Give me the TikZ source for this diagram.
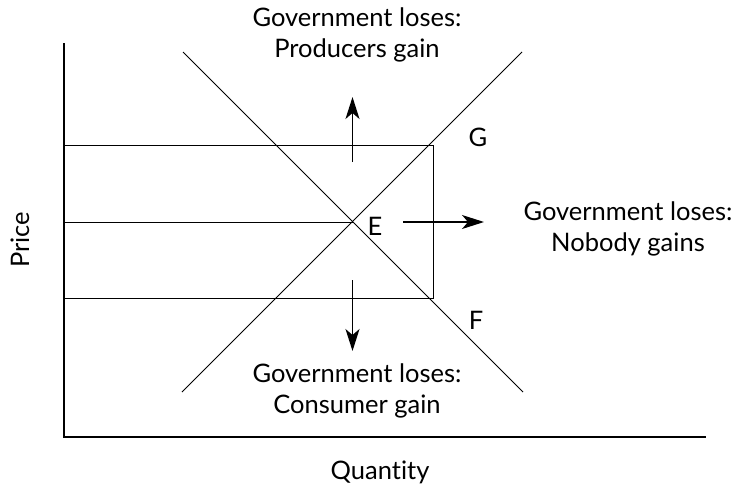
\documentclass[tikz,border=0pt]{standalone}
\usepackage{fontspec}
\setmainfont{Lato}[Ligatures={NoCommon}]
\usetikzlibrary{arrows.meta}
\begin{document}
\begin{tikzpicture}[x=1pt,y=-1pt,
  lbl/.style={font=\fontsize{25.5}{31}\selectfont, align=center, inner sep=0pt},
  thinline/.style={line width=1pt},
  axisline/.style={line width=1.3pt},
  arr/.style={line width=1.4pt,-{Stealth[length=22pt,width=14pt,inset=6pt]}}]
\useasboundingbox (0,0) rectangle (736,493);
% axes
\coordinate (ytop) at (64,43);
\coordinate (orig) at (64,437);
\coordinate (xend) at (706,437);
\draw[axisline] (ytop) -- (orig) -- (xend);
% rectangle
\coordinate (rtl) at (64,145);
\coordinate (rtr) at (433,145);
\coordinate (rbr) at (433,298);
\coordinate (rbl) at (64,298);
\draw[thinline] (rtl) -- (rtr) -- (rbr) -- (rbl);
% curves
\coordinate (dtop) at (183,52);
\coordinate (dbot) at (523,392);
\coordinate (stop) at (522,52);
\coordinate (sbot) at (182,392);
\draw[thinline] (dtop) -- (dbot);
\draw[thinline] (sbot) -- (stop);
\coordinate (E) at (352.5,222);
\coordinate (mid) at (64,222);
\draw[thinline] (mid) -- (E);
% arrows
\coordinate (u0) at (352.5,162);
\coordinate (u1) at (352.5,97);
\coordinate (d0) at (352.5,280);
\coordinate (d1) at (352.5,351);
\coordinate (r0) at (403,222);
\coordinate (r1) at (484,222);
\draw[arr] (u0) -- (u1);
\draw[arr] (d0) -- (d1);
\draw[arr] (r0) -- (r1);
% labels
\node[lbl] (ltop) at (357,35) {Government loses:\\Producers gain};
\node[lbl] (lright) at (628,229) {Government loses:\\Nobody gains};
\node[lbl] (lbot) at (357,391) {Government loses:\\Consumer gain};
\node[lbl] (lG) at (478,137) {G};
\node[lbl] (lE) at (375,226) {E};
\node[lbl] (lF) at (476,320) {F};
\node[lbl, rotate=90] (lP) at (20,240) {Price};
\node[lbl] (lQ) at (380,472) {Quantity};
\end{tikzpicture}
\end{document}
